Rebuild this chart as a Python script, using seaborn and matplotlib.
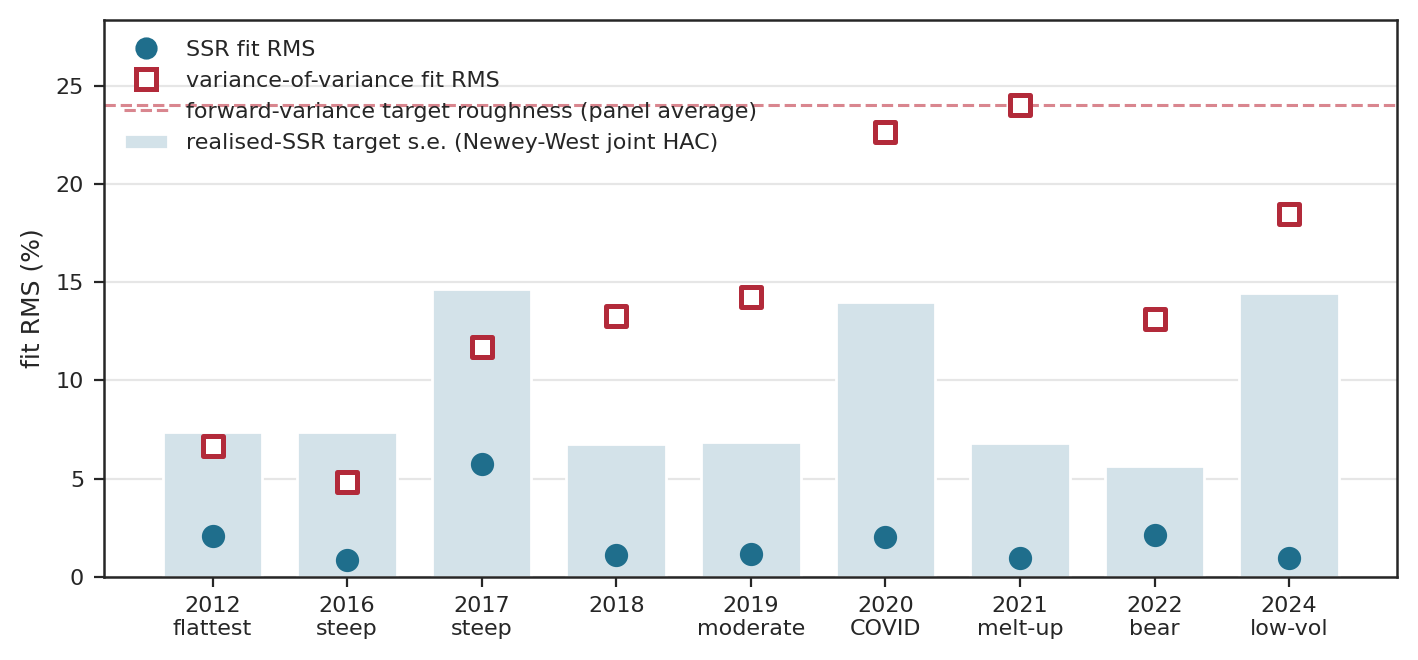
import matplotlib
matplotlib.use("Agg")
import matplotlib.pyplot as plt
import seaborn as sns
import pandas as pd
from matplotlib.lines import Line2D
from matplotlib.patches import Patch

categories = ["2012\nflattest", "2016\nsteep", "2017\nsteep", "2018", "2019\nmoderate",
              "2020\nCOVID", "2021\nmelt-up", "2022\nbear", "2024\nlow-vol"]
target_se = [7.38, 7.38, 14.66, 6.77, 6.87, 14.0, 6.82, 5.65, 14.46]
ssr_rms = [2.09, 0.87, 5.75, 1.12, 1.17, 2.04, 0.97, 2.14, 0.97]
vov_rms = [6.67, 4.84, 11.71, 13.29, 14.26, 22.66, 24.03, 13.14, 18.48]
fv_roughness = 24.03

df = pd.DataFrame({"cat": categories, "se": target_se, "ssr": ssr_rms, "vov": vov_rms})

sns.set_style("ticks")
plt.rcParams['font.family'] = ['DejaVu Sans']
fig, ax = plt.subplots(figsize=(7.09, 3.3), dpi=200)
fig.subplots_adjust(left=0.073, right=0.985, top=0.97, bottom=0.126)

ax.yaxis.grid(True, color="#e6e6e6", lw=0.8)
ax.set_axisbelow(True)
sns.barplot(data=df, x="cat", y="se", color="#d3e2e9", saturation=1, width=0.74, ax=ax, zorder=1)
sns.scatterplot(x=range(len(categories)), y=ssr_rms, color="#1f6e8c", s=60, edgecolor="#1f6e8c", ax=ax, zorder=3)
sns.scatterplot(x=range(len(categories)), y=vov_rms, marker="s", facecolor="white",
                edgecolor="#b22a3a", linewidth=1.8, s=55, ax=ax, zorder=4)
ax.axhline(fv_roughness, color="#d9868f", ls="--", lw=1.1, zorder=2)

ax.set_xlim(-0.81, 8.8)
ax.set_ylim(0, 28.36)
ax.set_yticks([0, 5, 10, 15, 20, 25])
ax.set_xlabel("")
ax.set_ylabel("fit RMS (%)", fontsize=9)
ax.tick_params(labelsize=8)
for s in ax.spines.values():
    s.set_linewidth(0.9)

handles = [
    Line2D([], [], marker="o", color="#1f6e8c", ls="none", markersize=7),
    Line2D([], [], marker="s", markerfacecolor="white", markeredgecolor="#b22a3a",
           markeredgewidth=1.8, ls="none", markersize=7),
    Line2D([], [], color="#d9868f", ls="--", lw=1.1),
    Patch(facecolor="#d3e2e9"),
]
labels = ["SSR fit RMS", "variance-of-variance fit RMS",
          "forward-variance target roughness (panel average)",
          "realised-SSR target s.e. (Newey-West joint HAC)"]
ax.legend(handles, labels, loc="upper left", frameon=False, fontsize=8)
fig.savefig("out.png", dpi=200)
